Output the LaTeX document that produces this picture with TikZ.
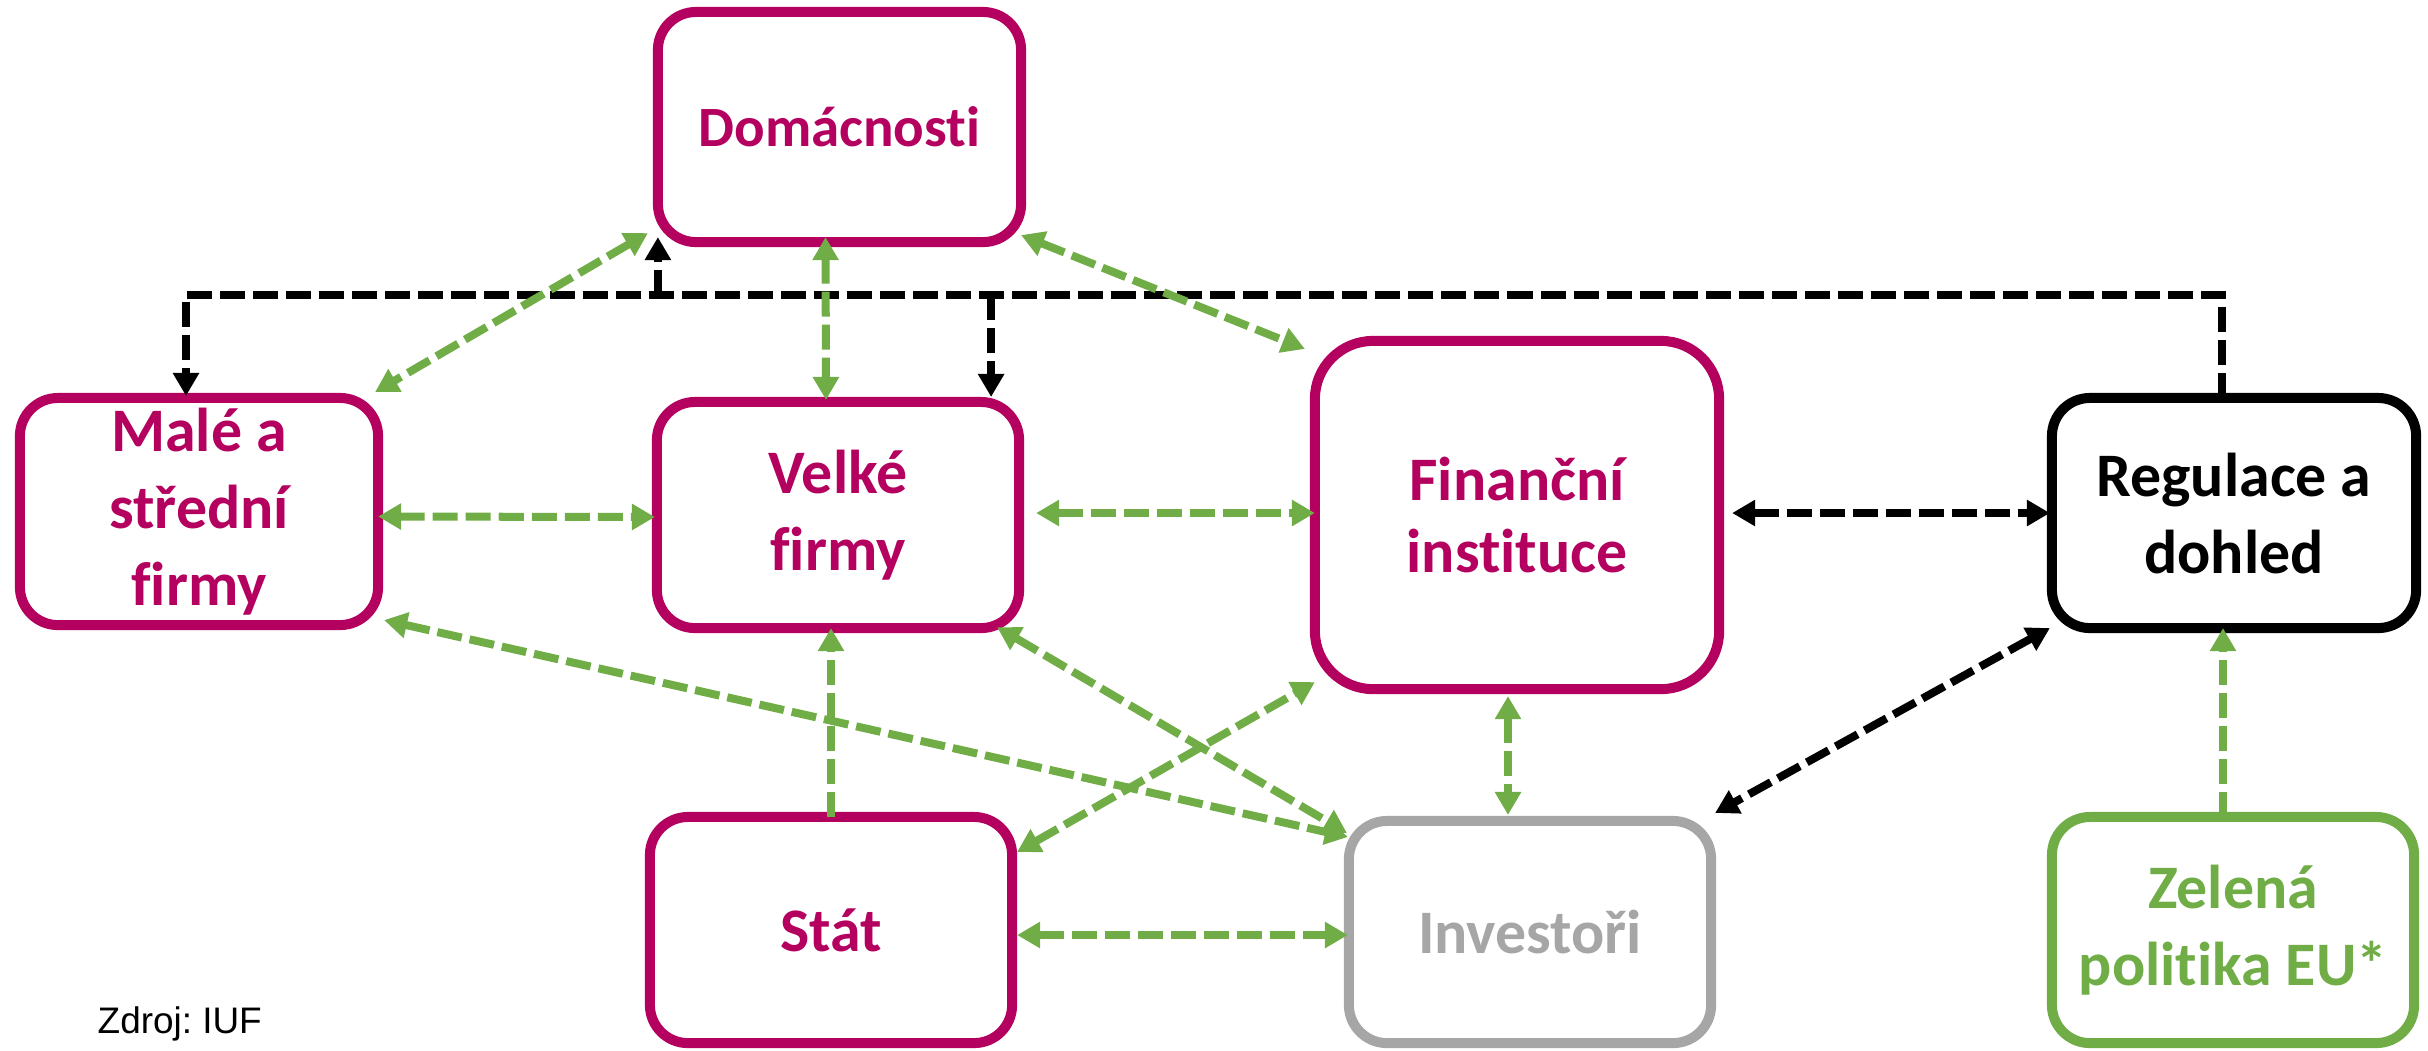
\documentclass[tikz,border=0pt]{standalone}
\usepackage{fontspec}
\setmainfont{Carlito}[Ligatures=NoCommon]
\newfontfamily\arialfont{Liberation Sans}
\usetikzlibrary{arrows.meta,calc}
\definecolor{mag}{RGB}{180,0,94}
\definecolor{grn}{RGB}{112,173,71}
\definecolor{gry}{RGB}{166,166,166}
\frenchspacing
\begin{document}
\begin{tikzpicture}[x=0.01cm,y=-0.01cm,
  box/.style={draw=#1, text=#1, line width=0.1cm, outer sep=0pt, inner sep=0pt,
    align=center, font=\bfseries\fontsize{17.6pt}{21.9pt}\selectfont,
    rounded corners=0.38cm},
  box/.default=mag,
  lnk/.style={line width=0.08cm, dash pattern=on 0.25cm off 0.08cm},
  gr/.style={lnk, draw=grn},
  bk/.style={lnk, draw=black},
  >={Triangle[length=0.23cm,width=0.25cm]}]
\useasboundingbox (0,0) rectangle (2428,1050);

\node[box, minimum width=3.63cm, minimum height=2.30cm, font=\bfseries\fontsize{16.2pt}{20pt}\selectfont] (dom) at (839.5,127) {Domácnosti};
\node[box, minimum width=3.58cm, minimum height=2.27cm] (male) at (199,511.5) {Malé a\\střední\\firmy};
\node[box, minimum width=3.62cm, minimum height=2.26cm] (velke) at (838,515) {Velké\\firmy};
\node[box, minimum width=4.04cm, minimum height=3.48cm, rounded corners=0.58cm, font=\bfseries\fontsize{17.6pt}{20.2pt}\selectfont] (fin) at (1517,515) {Finanční\\instituce};
\node[box=black, minimum width=3.64cm, minimum height=2.30cm] (reg) at (2234,513) {Regulace a\\dohled};
\node[box, minimum width=3.62cm, minimum height=2.26cm] (stat) at (831,930) {Stát};
\node[box=gry, minimum width=3.62cm, minimum height=2.22cm] (inv) at (1530,932) {Investoři};
\node[box=grn, minimum width=3.62cm, minimum height=2.26cm] (zel) at (2233,930) {Zelená\\politika EU*};

\node[anchor=base west, inner sep=0pt, font=\arialfont\fontsize{10.5pt}{12pt}\selectfont] (src) at (97,1033) {Zdroj: IUF};

% black elbow connector from Regulace
\coordinate (bus) at (0,295);
\coordinate (rtop) at ($(reg.north)+(-12,0)$);
\coordinate (mtop) at ($(male.north)+(-13,-2)$);
\coordinate (dtip) at ($(dom.south west)+(0,-5)$);
\coordinate (vtip) at ($(velke.north east)+(-28,-5)$);
\draw[bk,->] (rtop) |- (mtop |- bus) -- (mtop);
\draw[bk,->] (dtip |- bus) -- (dtip);
\draw[bk,->] (vtip |- bus) -- (vtip);

% green links
\draw[gr,<->] ($(dom.south west)+(-10,-9)$) -- ($(male.north east)+(-3,-6)$);
\draw[gr,<->] ($(dom.south)+(-14,-5)$) -- ($(velke.north)+(-12,-2)$);
\draw[gr,<->] ($(dom.south east)+(0,-7)$) -- ($(fin.north west)+(-10,8)$);
\draw[gr,<->] ($(male.east)+(0,5)$) -- ($(velke.west)+(-2,2)$);
\draw[gr,<->] ($(velke.east)+(17,-2)$) -- ($(fin.west)+(0,-2)$);
\draw[bk,<->] ($(fin.east)+(13,-2)$) -- ($(reg.west)+(-2,0)$);
\draw[gr,<->] ($(male.south east)+(6,-5)$) -- ($(inv.north west)+(-1,16)$);
\draw[gr,<->] ($(velke.south east)+(-22,-1)$) -- ($(inv.north west)+(-2,12)$);
\draw[gr,<->] ($(stat.north east)+(5,35)$) -- ($(fin.south west)+(0,-7)$);
\draw[gr,->] (stat.north) -- (stat.north |- velke.south);
\draw[gr,<->] ($(stat.east)+(5,5)$) -- ($(inv.west)+(-1,3)$);
\draw[gr,<->] ($(fin.south)+(-9,7)$) -- ($(inv.north)+(-22,-6)$);
\draw[bk,<->] ($(reg.south west)+(-2,0)$) -- ($(inv.north east)+(4,-8)$);
\coordinate (zr) at ($(zel.north)+(-10,0)$);
\draw[gr,->] (zr) -- (zr |- reg.south);
\end{tikzpicture}
\end{document}
